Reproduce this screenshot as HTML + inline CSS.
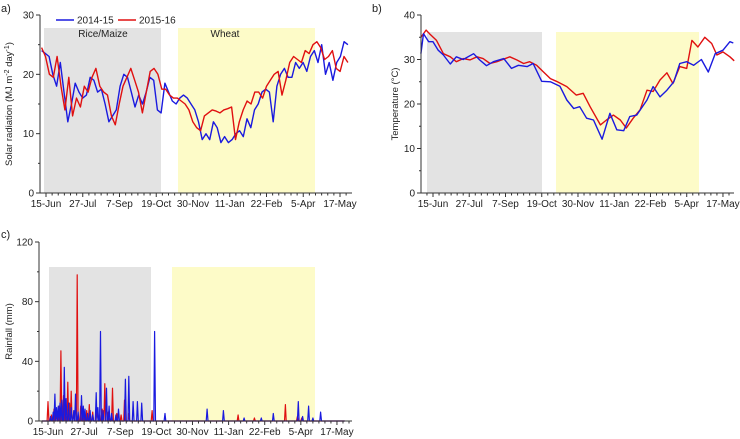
<!DOCTYPE html>
<html><head><meta charset="utf-8"><style>
body{margin:0;background:#fff;}
svg{display:block;font-family:"Liberation Sans",Arial,sans-serif;}
</style></head><body>
<svg id="chart" width="740" height="439"></svg>
<script>
const tickLabels=["15-Jun","27-Jul","7-Sep","19-Oct","30-Nov","11-Jan","22-Feb","5-Apr","17-May"];
const seriesNames=["2014-15","2015-16"];
const solar14=[24,23.5,23,20,18,22,17,12,15,18.5,17,16,16.5,19.5,19,17,17.5,15,12,13,14,18,20,19.5,17,14.5,16.5,15,17,19.5,19,14,13.5,18.5,17,15.5,15,16,16.5,16,15,14,12,9,10,9,12,11,8.5,9.5,8.5,9,10,10.5,9.5,12.5,11,14,15,17,17.5,17,12,18,20,21,19.5,19.5,22,21,22,20.5,23,24,22,25,20,22,19,22,23,25.5,25];
const solar15=[24.5,23,20,19.5,23,18,14,19.5,13,16,14.5,18,17,19.5,21,18,17,16.5,13,11.5,15,18,19.5,21,19,17,13.5,17,20.5,21,20,17.5,17.5,16.5,16,16,15.5,15,14,12,11,10.5,13,13.5,14,13.8,13.5,14,14.2,14.5,9,12,14,15.5,15,17,17,16,18,19,20,20.5,16.5,19,22,23,22.5,22,24,23.5,25,25.5,24.5,22.5,23,24,21,20.5,23,22];
const tempDays14=[-14,-11,-5,0,6,12,20,27,35,47,54,62,70,82,91,99,109,116,126,136,147,155,163,170,178,186,196,205,213,221,228,236,248,255,263,271,279,286,294,302,311,319,327,336,344,348];
const temp14=[31.3,35.8,34,34,32.1,31,29,30.6,30,31.3,29.9,28.6,29.5,30.2,28,28.7,28.4,29.1,25.1,25,24,20.9,19,19.4,16.8,16.4,12.1,17.9,14.2,14,17.2,17.5,20.9,23.9,21.6,23.1,25,29.1,29.5,28.7,30,27.2,31.3,32.1,34,33.7];
const tempDays15=[-14,-8,-4,4,12,20,27,35,43,51,58,66,74,89,97,105,112,120,128,136,143,155,166,174,182,194,201,209,217,224,232,240,248,255,263,271,278,286,294,300,307,315,323,329,336,344,349];
const temp15=[35,36.6,35.8,34.3,31.3,30.6,29.5,30.2,29.9,30.6,30.2,29.1,29.5,30.6,29.9,29.1,29.5,28.7,27.2,25.7,25.1,23.9,22,22.4,19.4,15.3,16.4,17.5,16.4,14.6,16.8,18.7,23.1,22.8,25.4,27,24.6,28.4,28,34.3,32.8,35,33.6,31,31.7,30.6,29.7];
const rainDays14=[3,6,8,10,12,14,16,19,21,24,27,30,32,35,39,41,43,46,49,52,56,58,61,64,68,71,74,79,82,90,94,99,104,109,124,136,185,204,228,248,262,291,296,303,308,317];
const rain14=[3,6,18,9,10,12,14,36,15,12,9,7,18,6,17,10,8,5,7,4,19,9,60,7,22,10,5,4,8,28,30,13,13,12,60,5,8,7,2,2,5,13,3,10,2,6];
const rainDays15=[0,4,7,10,13,15,18,20,23,25,27,30,34,38,42,45,48,52,56,60,63,66,70,75,80,85,89,94,121,221,240,276,290,295];
const rain15=[13,4,8,5,10,47,17,8,26,12,20,6,98,10,5,7,11,6,10,4,8,25,6,22,5,4,14,5,7,4,2,11,3,2];
const solarTicks=[0,10,20,30], tempTicks=[0,10,20,30,40], rainTicks=[0,40,80,120];

const NS="http://www.w3.org/2000/svg";
const svg=document.getElementById('chart');
function el(tag,at,parent){const e=document.createElementNS(NS,tag);for(const k in at)e.setAttribute(k,at[k]);(parent||svg).appendChild(e);return e;}

function panel(cfg){
  const g=el('g',{});
  
  
  const xs=d=>cfg.x15+d*cfg.ppd;
  const ys=v=>cfg.y0-(v/cfg.ymax)*(cfg.y0-cfg.yTop);
  const gr=el('rect',{x:cfg.gray[0],y:cfg.bandTop,width:cfg.gray[1]-cfg.gray[0],height:cfg.y0-cfg.bandTop,fill:'#e3e3e3'},g);
  
  
  const yr=el('rect',{x:cfg.yel[0],y:cfg.bandTop,width:cfg.yel[1]-cfg.yel[0],height:cfg.y0-cfg.bandTop,fill:'#fdfbc8'},g);
  
  
  cfg.series.forEach((s,i)=>{
    let pts;
    if(s.spikes){
      const daily=[];for(let d=-7;d<=345;d++)daily.push(0);
      s.spikes.forEach((d,j)=>{daily[d+7]=s.vals[j];});
      pts=daily.map((v,k)=>xs(k-7).toFixed(1)+','+ys(v).toFixed(1));
    }else if(s.days){
      pts=s.vals.map((v,k)=>xs(s.days[k]).toFixed(1)+','+ys(v).toFixed(1));
    }else{
      const n=s.vals.length;const step=(cfg.dEnd-cfg.dStart)/(n-1);
      pts=s.vals.map((v,k)=>xs(cfg.dStart+k*step).toFixed(1)+','+ys(v).toFixed(1));
    }
    const p=el('polyline',{points:pts.join(' '),fill:'none',stroke:s.color,'stroke-width':s.w||1.4,'stroke-linejoin':'round'},g);
    
    
  });
  el('line',{x1:cfg.ax,y1:cfg.yTop,x2:cfg.ax,y2:cfg.y0,stroke:'#333','stroke-width':1},g);
  el('line',{x1:cfg.ax,y1:cfg.y0,x2:cfg.xEnd,y2:cfg.y0,stroke:'#333','stroke-width':1},g);
  cfg.yticks.forEach((t,i)=>{
    el('line',{x1:cfg.ax-4,y1:ys(t),x2:cfg.ax,y2:ys(t),stroke:'#333'},g);
    if(i<cfg.yticks.length-1){const m=(t+cfg.yticks[i+1])/2;el('line',{x1:cfg.ax-2,y1:ys(m),x2:cfg.ax,y2:ys(m),stroke:'#333'},g);}
    const tx=el('text',{x:cfg.ax-6,y:ys(t)+3.5,'text-anchor':'end','font-size':10,fill:'#222'},g);tx.textContent=t;
    
    
  });
  for(let d=-7;d<=350;d+=7){const x=xs(d);if(x<cfg.ax||x>cfg.xEnd)continue;el('line',{x1:x,y1:cfg.y0,x2:x,y2:cfg.y0+(d%42===0?4:2.5),stroke:'#333'},g);}
  tickLabels.forEach((l,i)=>{
    const tx=el('text',{x:xs(i*42),y:cfg.y0+14,'text-anchor':'middle','font-size':10,fill:'#222'},g);tx.textContent=l;
    
    
  });
  const yt=el('text',{x:0,y:0,'text-anchor':'middle','font-size':9.5,fill:'#222',transform:`translate(${cfg.titleX},${(cfg.yTop+cfg.y0)/2}) rotate(-90)`},g);
  yt.innerHTML=cfg.title;
  
  
  const pl=el('text',{x:cfg.lblX,y:cfg.lblY,'font-size':11,fill:'#222'},g);pl.textContent=cfg.label;
  
  
  return {g,xs,ys};
}

panel({name:'solar-radiation-panel',x15:46,ppd:0.875,ax:40,xEnd:352,y0:193,yTop:15,ymax:30,dStart:-5,dEnd:345,bandTop:28,gray:[44,161],yel:[178,315],yticks:solarTicks,titleX:12,lblX:1,lblY:12,label:'a)',
  title:'Solar radiation (MJ m<tspan baseline-shift="super" font-size="7">-2</tspan> day<tspan baseline-shift="super" font-size="7">-1</tspan>)',
  series:[{vals:solar14,color:'#1a1adf',label:'series-2014-15'},{vals:solar15,color:'#e01010',label:'series-2015-16'}]});
panel({name:'temperature-panel',x15:433,ppd:0.863,ax:421,xEnd:734,y0:193,yTop:15,ymax:40,dStart:-14,dEnd:349,bandTop:32,gray:[427,542],yel:[556,699],yticks:tempTicks,titleX:398,lblX:372,lblY:12,label:'b)',
  title:'Temperature (°C)',
  series:[{days:tempDays15,vals:temp15,color:'#e01010',label:'series-2015-16'},{days:tempDays14,vals:temp14,color:'#1a1adf',label:'series-2014-15'}]});
panel({name:'rainfall-panel',x15:48,ppd:0.86,ax:39,xEnd:352,y0:421,yTop:242,ymax:120,dStart:-7,dEnd:345,bandTop:267,gray:[49,151],yel:[172,315],yticks:rainTicks,titleX:12,lblX:1,lblY:238,label:'c)',
  title:'Rainfall (mm)',
  series:[{spikes:rainDays15,vals:rain15,color:'#e01010',label:'series-2015-16',w:1.2},{spikes:rainDays14,vals:rain14,color:'#1a1adf',label:'series-2014-15',w:1.2}]});

[['Rice/Maize',103,37],['Wheat',225,37]].forEach(([t,x,y])=>{
  const tx=el('text',{x:x,y:y,'text-anchor':'middle','font-size':10,fill:'#222'});tx.textContent=t;
  
  
});
const lg=el('g',{});


[[56,'#1a1adf',seriesNames[0]],[118,'#e01010',seriesNames[1]]].forEach(([x,c,t])=>{
  el('line',{x1:x,y1:20,x2:x+18,y2:20,stroke:c,'stroke-width':1.5},lg);
  const tx=el('text',{x:x+21,y:23.5,'font-size':10,fill:'#222'},lg);tx.textContent=t;
  
  
});
</script>
</body></html>
